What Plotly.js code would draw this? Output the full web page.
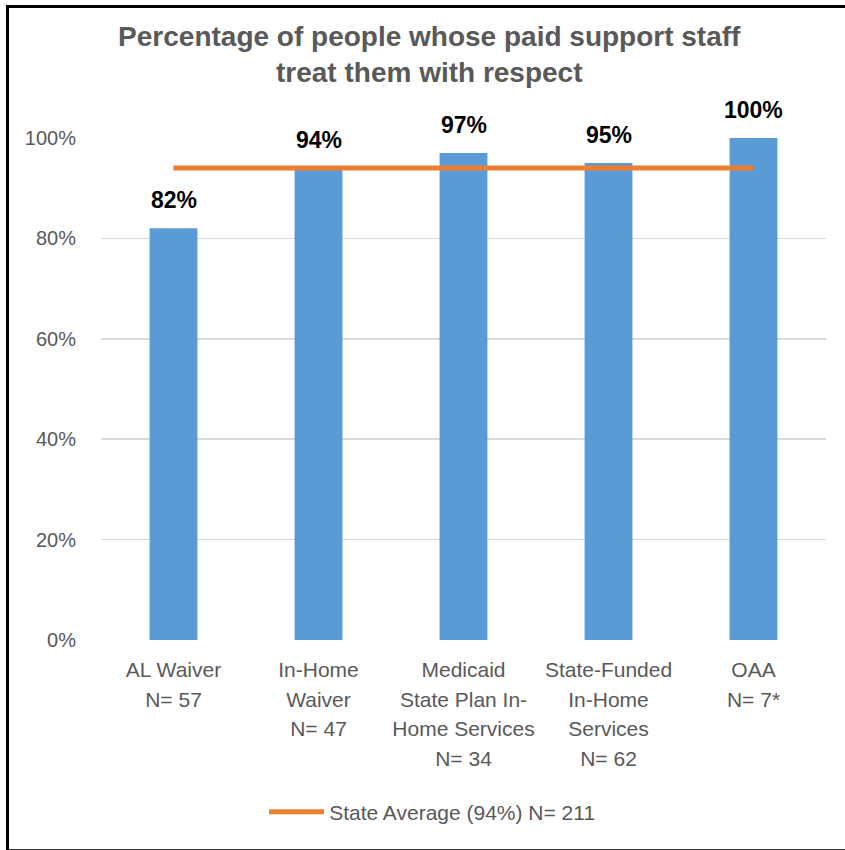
<!DOCTYPE html>
<html>
<head>
<meta charset="utf-8">
<script src="https://cdn.plot.ly/plotly-3.0.1.min.js"></script>
<style>
  html, body { margin: 0; padding: 0; background: #fff; }
  #wrap { position: relative; width: 845px; height: 850px; overflow: hidden; }
  #chart { position: absolute; left: 0; top: 0; width: 845px; height: 850px; }
  #frame { position: absolute; left: 6px; top: 5px; width: 860px; height: 841px;
           border-left: 3px solid #000; border-top: 3px solid #000; border-bottom: 2px solid #333;
           pointer-events: none; }
</style>
</head>
<body>
<div id="wrap">
  <div id="chart"></div>
  <div id="frame"></div>
</div>
<script>
// ---- data ----
const categories = ["AL Waiver", "In-Home Waiver", "Medicaid State Plan", "State-Funded", "OAA"];
const categoryLabelLines = [
  ["AL Waiver", "N= 57"],
  ["In-Home", "Waiver", "N= 47"],
  ["Medicaid", "State Plan In-", "Home Services", "N= 34"],
  ["State-Funded", "In-Home", "Services", "N= 62"],
  ["OAA", "N= 7*"]
];
const percentValues = [82, 94, 97, 95, 100];
const stateAverage = [94, 94, 94, 94, 94];
const stateAverageName = "State Average (94%) N= 211";
const yTickValues = [0, 20, 40, 60, 80, 100];
const titleText = "Percentage of people whose paid support staff<br>treat them with respect";

// ---- styles ----
const FONT = "Liberation Sans, Arial, sans-serif";
const GRAY = "#595959";

const tickText = categoryLabelLines.map(lines =>
  lines.map(l => '<span style="font-size:21px">' + l + '</span>').join("<br>")
);

const bars = {
  type: "bar",
  x: categories,
  y: percentValues,
  marker: { color: "#5B9BD5" },
  width: 0.33,
  showlegend: false,
  hoverinfo: "skip"
};

const avgLine = {
  type: "scatter",
  mode: "lines",
  x: categories,
  y: stateAverage,
  name: stateAverageName,
  line: { color: "#ED7D31", width: 5 },
  hoverinfo: "skip"
};

const valueLabels = categories.map((c, i) => ({
  x: c, y: percentValues[i], xref: "x", yref: "y",
  text: "<b>" + percentValues[i] + "%</b>",
  showarrow: false, yanchor: "bottom", yshift: 13,
  font: { family: FONT, size: 23, color: "#000" }
}));

const layout = {
  width: 845, height: 850,
  margin: { l: 101, r: 19, t: 138, b: 210 },
  paper_bgcolor: "#fff", plot_bgcolor: "#fff",
  font: { family: FONT, color: GRAY },
  title: {
    text: "<b>" + titleText + "</b>",
    font: { family: FONT, size: 28, color: GRAY },
    xref: "container", x: 0.508, xanchor: "center",
    yref: "container", y: 0.946, yanchor: "top"
  },
  xaxis: {
    type: "category",
    tickmode: "array", tickvals: categories, ticktext: tickText,
    tickfont: { family: FONT, size: 23, color: GRAY },
    ticks: "outside", ticklen: 8, tickcolor: "rgba(0,0,0,0)",
    showgrid: false, showline: false, zeroline: false,
    fixedrange: true
  },
  yaxis: {
    range: [0, 100],
    tickmode: "array", tickvals: yTickValues,
    ticktext: yTickValues.map(v => v + "%"),
    tickfont: { family: FONT, size: 20, color: GRAY },
    ticks: "outside", ticklen: 20, tickcolor: "rgba(0,0,0,0)",
    showgrid: true, gridcolor: "#d9d9d9", gridwidth: 1.5,
    zeroline: false, showline: false, fixedrange: true
  },
  showlegend: true,
  legend: {
    orientation: "h",
    x: 0.225, xanchor: "left",
    y: -0.343, yanchor: "middle",
    font: { family: FONT, size: 21, color: GRAY },
    itemwidth: 55,
    bgcolor: "rgba(0,0,0,0)"
  },
  annotations: valueLabels
};

Plotly.newPlot("chart", [bars, avgLine], layout, { displayModeBar: false, staticPlot: true });
</script>
</body>
</html>
